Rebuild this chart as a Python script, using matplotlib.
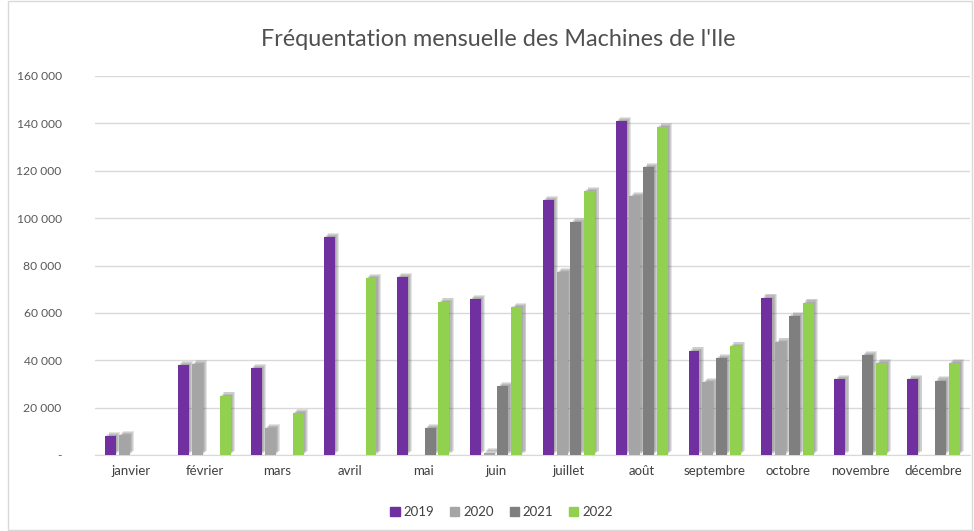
import numpy as np
import matplotlib
matplotlib.use("Agg")
import matplotlib.pyplot as plt
import matplotlib.patheffects as pe
from matplotlib.patches import Rectangle

months = ["janvier", "février", "mars", "avril", "mai", "juin", "juillet",
          "août", "septembre", "octobre", "novembre", "décembre"]
years = ["2019", "2020", "2021", "2022"]

v2019 = [7900, 38000, 36700, 92000, 75000, 65800, 107600, 141000, 44000, 66400, 32100, 32100]
v2020 = [8300, 38400, 11300, 0, 0, 1000, 77100, 109400, 30700, 47800, 0, 0]
v2021 = [0, 0, 0, 0, 11300, 29100, 98200, 121500, 40800, 58600, 42200, 31400]
v2022 = [0, 25000, 17700, 74700, 64700, 62300, 111400, 138300, 46100, 64300, 38700, 38700]

colors = ["#7030A0", "#A5A5A5", "#7F7F7F", "#92D050"]

plt.rcParams["font.family"] = ["Lato", "DejaVu Sans"]

fig = plt.figure(figsize=(9.74, 5.31), dpi=100)
ax = fig.add_axes([95 / 974, 1 - 455 / 531, 875 / 974, 379 / 531])

x = np.arange(len(months))
step = 0.19
width = 0.15
# soft drop shadow, towards the top right like the Excel style
shadow = [pe.SimplePatchShadow(offset=(o, o), shadow_rgbFace="#505050", alpha=0.15)
          for o in (0.8, 1.6, 2.4, 3.0)] + [pe.Normal()]

handles = []
for i, (yr, vals) in enumerate(zip(years, [v2019, v2020, v2021, v2022])):
    vals = np.array(vals, dtype=float)
    vals[vals == 0] = np.nan
    ax.bar(x + (i - 1.5) * step, vals, width, color=colors[i],
           zorder=3, path_effects=shadow)
    handles.append(Rectangle((0, 0), 1, 1, color=colors[i]))

ax.set_xlim(-0.5, len(months) - 0.5)
ax.set_ylim(0, 160000)
ax.set_yticks(range(0, 160001, 20000))
ax.set_yticklabels(["-"] + [f"{v // 1000} 000" for v in range(20000, 160001, 20000)],
                   fontsize=8.7, color="#595959")
ax.set_xticks(x)
ax.set_xticklabels(months, fontsize=9.5, color="#404040")
ax.tick_params(axis="both", length=0)
ax.tick_params(axis="y", pad=24)
ax.tick_params(axis="x", pad=7)
ax.grid(axis="y", color="#D9D9D9", linewidth=1, zorder=0)
for s in ["top", "right", "left"]:
    ax.spines[s].set_visible(False)
ax.spines["bottom"].set_color("#D9D9D9")

fig.text(0.512, 1 - 40 / 531, "Fréquentation mensuelle des Machines de l'Ile",
         ha="center", va="center", fontsize=16.8, color="#505050")

fig.legend(handles, years, loc="center", bbox_to_anchor=(0.515, 1 - 512 / 531), ncol=4,
           frameon=False, fontsize=9.5, handlelength=0.7, handleheight=0.7,
           columnspacing=1.2, handletextpad=0.3, labelcolor="#404040")

fig.patches.append(Rectangle((8 / 974, 0.002), 1 - 8 / 974 - 0.002, 0.996,
                             transform=fig.transFigure, fill=False,
                             edgecolor="#D9D9D9", linewidth=1))

fig.savefig("out.png", dpi=100)
